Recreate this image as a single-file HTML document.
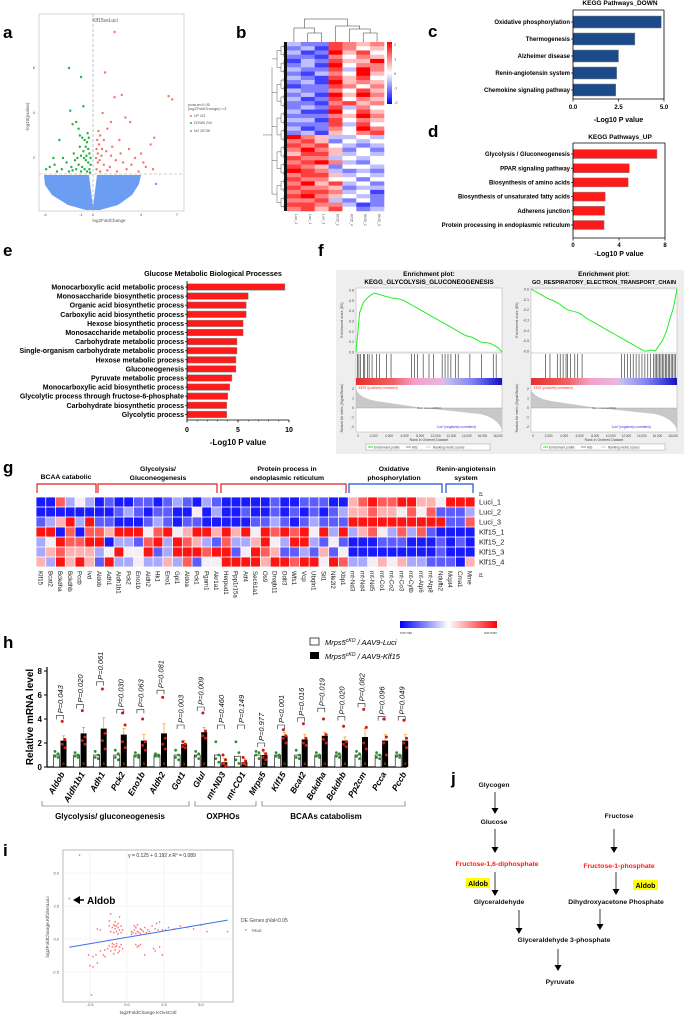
<!DOCTYPE html>
<html><head><meta charset="utf-8"><style>
body{margin:0;background:#fff}
svg{display:block;font-family:"Liberation Sans",Arial,sans-serif}
</style></head><body>
<svg id="fig" width="684" height="1016" viewBox="0 0 684 1016" xmlns="http://www.w3.org/2000/svg">
<rect x="0" y="0" width="684" height="1016" fill="#fff"/>
<g font-weight="bold" font-size="17" fill="#000">
<text x="3" y="38">a</text>
<text x="236" y="38">b</text>
<text x="428" y="37">c</text>
<text x="428" y="137">d</text>
<text x="3" y="256">e</text>
<text x="318" y="256">f</text>
<text x="3" y="473">g</text>
<text x="3" y="648">h</text>
<text x="3" y="856">i</text>
<text x="451" y="784">j</text>
</g>
</svg>
<script>
// ---------- data ----------
const volGreenX=[-2.0,-1.0,-0.8,-1.9,-1.7,-1.4,-1.2,-1.1,-0.9,-0.7,-0.5,-0.6,-0.4,-0.3,-0.8,-1.0,-1.3,-1.6,-2.5,-2.8,-3.3,-3.6,-3.9,-3.2,-2.2,-1.8,-1.5,-1.2,-0.9,-0.6,-0.4,-0.3,-0.5,-0.7,-1.0,-1.4,-2.0,-2.6,-0.2,-0.2,-0.35,-0.45,-0.55,-0.75,-1.1,-0.25,-1.7,-3.0];
const volGreenY=[6.0,5.6,4.3,4.1,3.5,3.6,3.3,3.0,2.9,2.8,2.7,2.5,2.4,2.2,2.3,2.1,2.0,2.2,2.0,2.8,2.0,1.6,1.5,1.7,1.8,1.6,1.9,1.7,1.6,1.9,1.8,1.5,1.4,1.5,1.4,1.5,1.4,1.5,1.7,2.0,2.9,3.1,2.1,2.0,2.5,1.35,1.45,1.4];
const volRedX=[1.8,1.0,6.3,6.6,2.4,1.8,0.8,2.7,3.1,1.5,1.2,0.6,0.9,0.5,0.3,0.4,0.7,1.1,1.6,2.2,4.8,5.1,4.0,3.5,3.2,2.5,1.9,1.4,0.9,0.4,0.3,0.6,1.2,2.0,2.8,3.8,4.4,4.2,5.0,0.25,0.35,0.45,0.55,0.75,1.5,2.3,3.0];
const volRedY=[7.6,5.8,4.75,4.6,4.8,4.7,4.0,3.8,3.6,3.6,3.3,3.0,2.8,2.6,2.4,2.2,2.1,2.3,2.5,2.8,2.6,2.9,2.2,2.0,1.7,1.8,1.9,1.6,1.7,1.8,1.5,1.4,1.45,1.4,1.5,1.4,1.6,1.8,1.5,2.0,2.8,3.2,1.9,2.4,2.1,2.2,2.4];
const volXTicks=[-4,-1,0,4,7];
const volYTicks=[2,4,6];

const hmRows=["3227656","2317645","3128574","2216465","1327558","2318466","3227386","2136485","3217574","2318565","1227646","3226475","2318586","3127465","2216756","2327364","3118475","2226586","3317465","2227374","3126486","2315467",
"8653343","6752434","7674323","6865242","5775343","7663434","6786324","7652443","8763232","6775343","7664424","6857342","7665233","6776341","7865432","6673242","7766312","6757423"];
const hmCols=["Luci_2","Luci_1","Luci_3","Klf15_1","Klf15_4","Klf15_2","Klf15_3"];

const cCats=["Oxidative phosphorylation","Thermogenesis","Alzheimer disease","Renin-angiotensin system","Chemokine signaling pathway"];
const cVals=[4.85,3.4,2.5,2.4,2.35];
const cTicks=["0.0","2.5","5.0"];
const dCats=["Glycolysis / Gluconeogenesis","PPAR signaling pathway","Biosynthesis of amino acids","Biosynthesis of unsaturated fatty acids","Adherens junction","Protein processing in endoplasmic reticulum"];
const dVals=[7.3,4.9,4.8,2.8,2.75,2.7];
const dTicks=[0,4,8];
const eCats=["Monocarboxylic acid metabolic process","Monosaccharide biosynthetic process","Organic acid biosynthetic process","Carboxylic acid biosynthetic process","Hexose biosynthetic process","Monosaccharide metabolic process","Carbohydrate metabolic process","Single-organism carbohydrate metabolic process","Hexose metabolic process","Gluconeogenesis","Pyruvate metabolic process","Monocarboxylic acid biosynthetic process","Glycolytic process through fructose-6-phosphate","Carbohydrate biosynthetic process","Glycolytic process"];
const eVals=[9.6,6.0,5.8,5.8,5.5,5.5,4.9,4.9,4.8,4.8,4.4,4.2,4.0,3.9,3.9];
const eTicks=[0,5,10];

const esLeft=[0,0.38,0.48,0.52,0.55,0.57,0.56,0.55,0.54,0.53,0.52,0.52,0.51,0.5,0.48,0.46,0.44,0.42,0.4,0.38,0.36,0.34,0.32,0.3,0.28,0.26,0.24,0.22,0.2,0.18,0.16,0.15,0.14,0.12,0.1,0.09,0.09,0.08,0.06,0.04,0.0];
const esRight=[0,-0.02,-0.04,-0.06,-0.08,-0.1,-0.11,-0.13,-0.15,-0.18,-0.2,-0.21,-0.22,-0.23,-0.25,-0.28,-0.3,-0.32,-0.34,-0.36,-0.38,-0.4,-0.42,-0.44,-0.46,-0.48,-0.5,-0.52,-0.54,-0.56,-0.58,-0.6,-0.6,-0.59,-0.6,-0.55,-0.5,-0.42,-0.3,-0.18,0];
const hitsLeft=[0.01,0.02,0.03,0.05,0.06,0.08,0.09,0.11,0.14,0.16,0.21,0.24,0.38,0.40,0.42,0.46,0.5,0.53,0.59,0.61,0.63,0.65,0.68,0.7,0.78,0.86,0.94,0.96];
const hitsRight=[0.1,0.13,0.18,0.2,0.22,0.24,0.25,0.27,0.3,0.32,0.35,0.62,0.64,0.66,0.68,0.7,0.72,0.74,0.76,0.78,0.8,0.82,0.84,0.85,0.86,0.87,0.88,0.89,0.9,0.91,0.92,0.93,0.94,0.95,0.96,0.97,0.98,0.99];
const esLeftTicks=[0,0.1,0.2,0.3,0.4,0.5,0.6];
const esRightTicks=[0,-0.1,-0.2,-0.3,-0.4,-0.5,-0.6];
const rankTicks=["0","2,000","4,000","6,000","8,000","10,000","12,000","14,000","16,000","18,000"];

const gGenes=["Klf15","Bcat2","Bckdha","Bckdhb","Pccb","Ivd","Aldob","Adh1","Aldh1b1","Pck2","Eno1b","Aldh2","Hk1","Eno1","Gpi1","Aldoa","Pck1","Pgam1","Akr1a1","Herpud1","Ppp1r15a","Atf4","Sec61a1","Os9","Dnajb11","Ddit3","Wfs1","Vcp","Ubqln1","Sil1","Nfe2l2","Xbp1","mt-Nd3","mt-Nd4","mt-Nd5","mt-Co1","mt-Co2","mt-Co3","mt-Cytb","mt-Atp6","mt-Atp8","Ndufb2","Mcpt4","Cma1","Mme"];
const gSamples=["Luci_1","Luci_2","Luci_3","Klf15_1","Klf15_2","Klf15_3","Klf15_4"];
const gValues=[
"BBrlwl"+"BbBBbbBblbBlb"+"BBBBBbBBbbbBB"+"prRrrRRppw"+"RRR",
"BBBBBB"+"BBblbBbbBBwBl"+"BBbBBbBbBbBbl"+"pprppwrwrb"+"bbl",
"blpRlR"+"bbBBBblbBbbBB"+"BBBbblbBblbbb"+"RRRRRRRRRR"+"bbr",
"RRBrBr"+"rpRRRwrRwpRRp"+"RpRwRrRrRwRlR"+"lprwlrlrbB"+"BBB",
"lwRrrR"+"RBllbrRlRrplb"+"rllpRwlRRlbwb"+"BBBbbbBBBb"+"BbB",
"lprppp"+"lwRwwRblRRRrR"+"RbwRrpbblbpbw"+"BBBBBBBBBb"+"BBB",
"plRpRp"+"bRllwllplrbww"+"RRRRpRRrRRwRr"+"llwpwpllbb"+"bBp"];

const hGenes=["Aldob","Aldh1b1","Adh1","Pck2","Eno1b","Aldh2","Got1","Glul","mt-ND3","mt-CO1","Mrps5","Klf15","Bcat2","Bckdha","Bckdhb","Pp2cm","Pcca","Pccb"];
const hWhite=[1,1,1,1,1,1,1,1,1,0.9,1,1,1,1,1,1,1,1];
const hBlack=[2.2,2.8,3.2,2.7,2.2,2.8,1.9,2.9,0.4,0.4,1.0,2.6,2.3,2.6,2.2,2.5,2.2,2.2];
const hErr=[0.4,0.5,0.9,0.5,0.5,0.8,0.3,0.4,0.3,0.3,0.2,0.3,0.4,0.3,0.3,0.7,0.5,0.5];
const hBlackDots=[[3.8,2.3,1.9,1.6],[4.7,2.5,2.2,1.9],[6.5,2.8,2.2,1.5],[4.5,3.5,2.1,1.6],[4.0,2.1,1.8,1.4],[5.8,2.4,1.9,1.5],[2.1,1.9,1.7,1.6],[4.5,3.0,2.6,2.4],[1.0,0.6,0.3,0.1],[0.8,0.5,0.3,0.2],[1.4,1.1,0.8,0.6],[3.1,2.6,2.4,2.0],[3.6,2.4,2.0,1.8],[4.0,2.7,2.3,2.0],[3.4,2.1,1.9,1.7],[4.8,3.3,2.0,1.5],[4.0,2.5,2.0,1.0],[3.9,2.4,2.0,1.6]];
const hWhiteDots=[[1.3,1.1,0.9,0.8],[1.2,1.0,0.9,0.8],[1.3,1.0,0.8,0.7],[1.4,1.1,0.8,0.6],[1.2,1.0,0.9,0.8],[1.1,1.0,0.9,0.9],[1.4,1.0,0.8,0.6],[1.3,1.1,0.9,0.7],[2.1,1.0,0.7,0.4],[2.1,1.2,0.6,0.3],[1.3,1.2,1.0,0.7],[1.2,1.0,0.9,0.8],[1.4,1.0,0.8,0.7],[1.2,1.0,0.9,0.8],[1.2,1.1,0.9,0.8],[1.3,1.1,0.9,0.7],[1.2,1.0,0.8,0.7],[1.2,1.0,0.9,0.8]];
const hP=["P=0.043","P=0.020","P=0.061","P=0.030","P=0.063","P=0.081","P=0.003","P=0.009","P=0.460","P=0.149","P=0.977","P<0.001","P=0.016","P=0.019","P=0.020","P=0.082","P=0.096","P=0.049"];
const hBracket=[4.3,5.2,7.1,4.8,4.8,6.4,3.5,5.0,3.5,3.5,2.0,3.5,4.1,4.9,4.2,5.3,4.2,4.2];
const hTicks=[0,2,4,6,8];

const iX=[-1.0,-0.9,-0.8,-0.7,-0.6,-0.5,-1.1,-0.9,-0.7,-0.6,-0.4,-0.3,-1.2,-0.8,-0.5,-1.1,-1.2,-0.4,-0.6,-0.8,-2.0,-1.8,
-1.3,-1.2,-1.1,-1.0,-0.9,-0.8,-0.7,-0.6,-0.5,-0.4,-0.3,-0.9,-1.0,-0.7,-0.5,-0.8,-1.5,-1.8,-1.6,-2.1,-2.3,-2.6,-2.5,-2.3,-2.0,-1.5,-2.4,
0.3,0.4,0.5,0.6,0.7,0.8,0.9,1.0,1.1,1.2,1.3,1.4,0.5,0.7,0.9,1.5,0.3,0.6,1.7,1.9,2.0,2.1,2.4,2.6,2.8,3.2,3.6,4.1,4.5,5.0,5.4,6.8,2.2,
0.6,0.8,0.9,0.7,1.2,1.8,2.2,2.4,1.9,-3.9,-3.2];
const iY=[0.8,1.0,0.7,0.9,1.1,0.6,0.5,0.4,0.5,0.8,0.9,0.6,0.9,1.2,1.6,1.8,1.3,0.4,0.3,0.9,0.7,0.6,
-0.8,-0.6,-1.0,-0.7,-0.5,-0.9,-0.6,-1.1,-0.7,-0.5,-0.8,-1.2,-0.4,-0.4,-1.0,-0.7,-0.9,-1.0,-1.3,-1.3,-1.4,-1.3,-2.1,-2.2,-1.9,-1.4,-4.3,
0.5,0.4,0.6,0.8,0.5,0.4,0.7,0.6,0.5,0.8,0.4,0.6,0.9,1.0,0.3,0.5,0.3,0.35,0.9,0.7,1.1,0.6,0.6,0.6,0.8,0.7,0.9,0.8,0.7,1.0,0.5,0.5,1.2,
-0.5,-0.6,-0.5,-0.7,-1.3,-0.8,-0.7,-1.3,-1.0,3.0,6.3];
const iIntercept=0.125, iSlope=0.192;
const iXTicks=[-2.5,0,2.5,5];
const iYTicks=[-2.5,0,2.5,5];

// ---------- helpers ----------
const NS='http://www.w3.org/2000/svg';
const svg=document.getElementById('fig');
function mk(tag,attrs,parent){const e=document.createElementNS(NS,tag);for(const k in attrs)e.setAttribute(k,attrs[k]);(parent||svg).appendChild(e);return e;}
function grp(name){const g=mk('g',{});return g;}
function txt(p,s,x,y,size,o){o=o||{};const t=mk('text',{x:x,y:y,'font-size':size,fill:o.fill||'#000','text-anchor':o.anchor||'start'},p);
 if(o.bold)t.setAttribute('font-weight','bold');if(o.italic)t.setAttribute('font-style','italic');
 if(o.rot!==undefined)t.setAttribute('transform','rotate('+o.rot+' '+x+' '+y+')');t.textContent=s;return t;}
function line(p,x1,y1,x2,y2,st,w,extra){const l=mk('line',{x1:x1,y1:y1,x2:x2,y2:y2,stroke:st||'#000','stroke-width':w||1},p);if(extra)for(const k in extra)l.setAttribute(k,extra[k]);return l;}

// ---------- panel a: volcano ----------
(function(){
 const g=grp('volcano-plot');
 const X=v=>93+v*12, Y=v=>203-v*22.5;
 mk('rect',{x:39,y:14,width:145,height:197,fill:'#fff',stroke:'#bbb','stroke-width':0.6},g);
 txt(g,'Klf15vsLuci',105,22,5,{anchor:'middle',fill:'#555'});
 mk('path',{d:'M44,175 L89,175 L93,207 L97,175 L141,175 L139,184 L132,195 L118,205 L100,210 L86,210 L68,205 L52,195 L45,185 Z',fill:'#6b9ef2'},g);
 mk('circle',{cx:156,cy:184,r:1.2,fill:'#6b9ef2'},g);
 volGreenX.forEach((v,i)=>{const c=mk('circle',{cx:X(v),cy:Y(volGreenY[i]),r:1.2,fill:'#1fb33a'},g);});
 volRedX.forEach((v,i)=>{const c=mk('circle',{cx:X(v),cy:Y(volRedY[i]),r:1.2,fill:'#f0786e'},g);});
 line(g,93,14,93,211,'#999',0.6,{'stroke-dasharray':'3,2'});
 line(g,39,174,184,174,'#999',0.6,{'stroke-dasharray':'3,2'});
 volXTicks.forEach(v=>txt(g,String(v),X(v),216,4,{anchor:'middle',fill:'#555'}));
 volYTicks.forEach(v=>txt(g,String(v),35,Y(v)+1,4,{anchor:'end',fill:'#555'}));
 txt(g,'log2FoldChange',109,222,4.5,{anchor:'middle',fill:'#555'});
 txt(g,'-log10(pvalue)',29,117,4.5,{anchor:'middle',fill:'#555',rot:-90});
 txt(g,'pvalue<0.05',188,106,4,{fill:'#555'});txt(g,'|log2FoldChange|>=3',188,110,4,{fill:'#555'});
 [['#f0786e','UP 421',117],['#1fb33a','DOWN 240',124],['#6b9ef2','NO 26738',132]].forEach(a=>{mk('circle',{cx:191,cy:a[2]-1,r:1,fill:a[0]},g);txt(g,a[1],194,a[2],3.5,{fill:'#555'});});
})();

// ---------- panel b: heatmap ----------
(function(){
 const g=grp('cluster-heatmap');
 const x0=287,y0=42,w=97,h=169,cw=w/7,rh=h/hmRows.length;
 function col(v){const t=(v-4)/4;if(t<0){const k=Math.round(255*(1+t));return 'rgb('+k+','+k+',255)';}const k=Math.round(255*(1-t));return 'rgb(255,'+k+','+k+')';}
 hmRows.forEach((r,i)=>{for(let j=0;j<7;j++){const c=mk('rect',{x:x0+j*cw,y:y0+i*rh,width:cw+0.3,height:rh+0.3,fill:col(+r[j])},g);}});
 let d='';for(let i=0;i<hmRows.length;i++){const y=y0+(i+0.5)*rh;d+='M'+(x0-3)+','+y+'H'+x0+' ';}
 for(let i=0;i<hmRows.length;i+=2){const y1=y0+(i+0.5)*rh,y2=y0+(i+1.5)*rh;d+='M'+(x0-3)+','+y1+'V'+y2+'M'+(x0-6)+','+((y1+y2)/2)+'H'+(x0-3)+' ';}
 for(let i=0;i<hmRows.length;i+=4){const y1=y0+(i+1)*rh,y2=y0+(i+3)*rh;d+='M'+(x0-6)+','+y1+'V'+y2+'M'+(x0-10)+','+((y1+y2)/2)+'H'+(x0-6)+' ';}
 for(let i=0;i<hmRows.length;i+=8){const y1=y0+(i+2)*rh,y2=y0+Math.min(i+6,hmRows.length-1)*rh;d+='M'+(x0-10)+','+y1+'V'+y2+'M'+(x0-15)+','+((y1+y2)/2)+'H'+(x0-10)+' ';}
 d+='M'+(x0-15)+','+(y0+6*rh)+'V'+(y0+36*rh)+'M'+(x0-24)+','+(y0+22*rh)+'H'+(x0-15);
 mk('path',{d:d,stroke:'#333','stroke-width':0.4,fill:'none'},g);
 mk('rect',{x:x0-3,y:y0,width:3,height:h,fill:'#111'},g);
 const cx=j=>x0+(j+0.5)*cw;
 mk('path',{d:'M'+cx(1)+',42V33H'+cx(2)+'V42 M'+cx(0)+',42V28H'+((cx(1)+cx(2))/2)+'V33 M'+cx(5)+',42V33H'+cx(6)+'V42 M'+cx(4)+',42V29H'+((cx(5)+cx(6))/2)+'V33 M'+cx(3)+',42V26H'+((cx(4)+(cx(5)+cx(6))/2)/2)+'V29 M'+((cx(0)+(cx(1)+cx(2))/2)/2)+',28V19H'+((cx(3)+(cx(4)+(cx(5)+cx(6))/2)/2)/2)+'V26',stroke:'#333','stroke-width':0.5,fill:'none'},g);
 hmCols.forEach((c,j)=>txt(g,c,cx(j)+1,214,3.5,{fill:'#555',rot:90}));
 const gd=mk('linearGradient',{id:'bgrad',x1:0,y1:0,x2:0,y2:1},mk('defs',{},g));
 mk('stop',{offset:0,'stop-color':'#f00'},gd);mk('stop',{offset:0.5,'stop-color':'#fff'},gd);mk('stop',{offset:1,'stop-color':'#00f'},gd);
 mk('rect',{x:387,y:42,width:5,height:62,fill:'url(#bgrad)'},g);
 ['2','1','0','-1','-2'].forEach((s,i)=>txt(g,s,394,46+i*14.5,4,{fill:'#555'}));
})();

// ---------- bar charts c, d, e ----------
function barChart(name,cats,vals,ticks,opt){
 const g=grp(name);
 const X=v=>opt.x0+v*opt.scale;
 txt(g,opt.title,opt.tx,opt.ty,opt.tsize,{anchor:'middle',bold:true});
 cats.forEach((c,i)=>{const y=opt.y0+i*opt.step;
  const b=mk('rect',{x:opt.x0,y:y-opt.bh/2,width:X(vals[i])-opt.x0,height:opt.bh,fill:opt.color,stroke:'#888','stroke-width':0.5},g);
  
  line(g,opt.x0-2,y,opt.x0,y,'#000',0.7);
  txt(g,c,opt.x0-3,y+opt.lsize*0.35,opt.lsize,{anchor:'end',bold:true});});
 line(g,opt.x0,opt.top,opt.x0,opt.axisY,'#000',0.8);
 line(g,opt.x0,opt.axisY,X(+String(ticks[ticks.length-1]).replace(',','')),opt.axisY,'#000',0.8);
 if(opt.box){line(g,opt.x0,opt.top,X(+ticks[ticks.length-1]),opt.top,'#000',0.8);line(g,X(+ticks[ticks.length-1]),opt.top,X(+ticks[ticks.length-1]),opt.axisY,'#000',0.8);}
 if(opt.minor){for(let v=0;v<=+ticks[ticks.length-1];v+=opt.minor)line(g,X(v),opt.axisY,X(v),opt.axisY+1.5,'#000',0.5);}
 ticks.forEach(t=>{line(g,X(+t),opt.axisY,X(+t),opt.axisY+2.5,'#000',0.7);txt(g,String(t),X(+t),opt.axisY+opt.tickGap,opt.lsize,{anchor:'middle',bold:true});});
 txt(g,'-Log10  P value',(opt.x0+X(+ticks[ticks.length-1]))/2,opt.xlY,opt.xlsize,{anchor:'middle',bold:true});
}
barChart('kegg-down-chart',cCats,cVals,cTicks,{x0:573,scale:18.2,y0:22,step:17,bh:12,color:'#1c4a8a',title:'KEGG Pathways_DOWN',tx:620,ty:5,tsize:6.5,lsize:6,top:10,axisY:99,tickGap:10,xlY:122,xlsize:7,box:true});
barChart('kegg-up-chart',dCats,dVals,dTicks,{x0:573,scale:11.5,y0:154,step:14.2,bh:9,color:'#ff1a1a',title:'KEGG Pathways_UP',tx:620,ty:139,tsize:6.5,lsize:6,top:143,axisY:238,tickGap:9,xlY:256,xlsize:7,box:true});
barChart('glucose-bp-chart',eCats,eVals,eTicks,{x0:187,scale:10.2,y0:287,step:9.1,bh:6.5,color:'#ff1a1a',title:'Glucose Metabolic Biological Processes',tx:213,ty:276,tsize:7.2,lsize:7,top:281,axisY:420,tickGap:12,xlY:445,xlsize:8,minor:1});

// ---------- panel f: GSEA ----------
mk('rect',{x:336,y:270,width:348,height:184,fill:'#eeeeee'});
function gsea(name,x0,title,es,hits,ticks,neg,tsz){
 const g=grp(name);
 const w=146,esT=288,esB=353;
 txt(g,'Enrichment plot:',x0+w/2,276,6.5,{anchor:'middle',bold:true});
 txt(g,title,x0+w/2,284,tsz,{anchor:'middle',bold:true});
 mk('rect',{x:x0,y:esT,width:w,height:144,fill:'#fff',stroke:'#aaa','stroke-width':0.5},g);
 const Y=v=>neg?esT+(-v/0.6)*(esB-esT-3)+1:esB-1-(v/0.6)*(esB-esT-3);
 line(g,x0,Y(0),x0+w,Y(0),'#bbb',0.4);
 ticks.forEach(t=>txt(g,t.toFixed(1),x0-2,Y(t)+1.5,3.6,{anchor:'end',fill:'#444'}));
 let d='';es.forEach((v,i)=>{d+=(i?'L':'M')+(x0+i/(es.length-1)*w).toFixed(1)+','+Y(v).toFixed(1);});
 const p=mk('path',{d:d,stroke:'#22ee22','stroke-width':1,fill:'none'},g);
 line(g,x0,esB,x0+w,esB,'#aaa',0.5);
 hits.forEach(hh=>{const l=line(g,x0+hh*w,esB+1,x0+hh*w,378,'#222',0.6);});
 const gid='strip'+name;const gd=mk('linearGradient',{id:gid,x1:0,y1:0,x2:1,y2:0},mk('defs',{},g));
 [[0,'#e83030'],[0.25,'#f06060'],[0.4,'#f4a0c8'],[0.6,'#e8b8e0'],[0.62,'#c0c0f0'],[0.8,'#8080f0'],[1,'#1010c8']].forEach(s=>mk('stop',{offset:s[0],'stop-color':s[1]},gd));
 mk('rect',{x:x0,y:378,width:w,height:7,fill:'url(#'+gid+')'},g);
 txt(g,"'Klf15' (positively correlated)",x0+2,389,3.2,{fill:'#e33'});
 const z=408;
 mk('path',{d:'M'+x0+','+z+' L'+x0+',389 Q'+(x0+3)+',398 '+(x0+20)+',401 L'+(x0+w*0.46)+','+z+' L'+(x0+w*0.85)+',414 Q'+(x0+w*0.97)+',418 '+(x0+w)+',430 L'+(x0+w)+','+z+' Z',fill:'#c8c8c8'},g);
 line(g,x0,z,x0+w,z,'#999',0.4);
 txt(g,'Zero cross at 8314',x0+w*0.42,409,2.8,{fill:'#444'});
 txt(g,"'Luci' (negatively correlated)",x0+w*0.55,428,3.2,{fill:'#33e'});
 ['2','1','0','-1','-2'].forEach((s,i)=>txt(g,s,x0-2,390+i*9.5,3.6,{anchor:'end',fill:'#444'}));
 rankTicks.forEach((s,i)=>txt(g,s,x0+2+i*(w-6)/9,437,3.2,{anchor:'middle',fill:'#444'}));
 txt(g,'Rank in Ordered Dataset',x0+w/2,441,3.5,{anchor:'middle',fill:'#444'});
 txt(g,'Enrichment score (ES)',x0-13,320,3.5,{anchor:'middle',fill:'#444',rot:-90});
 txt(g,'Ranked list metric (Signal2Noise)',x0-13,408,3.3,{anchor:'middle',fill:'#444',rot:-90});
 mk('rect',{x:x0+10,y:444,width:w-22,height:6,fill:'#fff',stroke:'#888','stroke-width':0.4},g);
 line(g,x0+12,447,x0+17,447,'#2e2',1);txt(g,'Enrichment profile',x0+18,448.5,3.2,{fill:'#444'});
 line(g,x0+50,447,x0+55,447,'#444',0.6);txt(g,'Hits',x0+56,448.5,3.2,{fill:'#444'});
 line(g,x0+70,447,x0+75,447,'#ccc',1);txt(g,'Ranking metric scores',x0+77,448.5,3.2,{fill:'#444'});
}
gsea('gsea-glycolysis',356,'KEGG_GLYCOLYSIS_GLUCONEOGENESIS',esLeft,hitsLeft,esLeftTicks,false,6.3);
gsea('gsea-respiratory',531,'GO_RESPIRATORY_ELECTRON_TRANSPORT_CHAIN',esRight,hitsRight,esRightTicks,true,5.6);

// ---------- panel g: gene heatmap ----------
(function(){
 const g=grp('pathway-gene-heatmap');
 const x0=36,y0=497,cw=439/45,rh=10;
 const cmap={B:'#1a1aff',b:'#5c5cff',l:'#a9a9ff',w:'#f5eef5',p:'#ffb2b2',r:'#ff5c5c',R:'#ff1414'};
 gValues.forEach((row,i)=>{for(let j=0;j<45;j++){const c=mk('rect',{x:x0+j*cw+0.4,y:y0+i*rh+0.4,width:cw-0.8,height:rh-0.8,fill:cmap[row[j]||'w']},g);}});
 gSamples.forEach((s,i)=>txt(g,s,479,y0+i*rh+7.5,7.5,{fill:'#222'}));
 txt(g,'id',479,492,5,{fill:'#222',rot:90});txt(g,'id',479,573,5,{fill:'#222',rot:90});
 gGenes.forEach((s,j)=>txt(g,s,x0+j*cw+2.5,571,6.2,{fill:'#222',rot:90}));
 const brs=[[37,96,'#e02020',['BCAA catabolic'],66],[98,217,'#e02020',['Glycolysis/','Gluconeogenesis'],158],[221,346,'#e02020',['Protein process in','endoplasmic reticulum'],287],[349,442,'#2050d0',['Oxidative','phosphorylation'],394],[446,473,'#2050d0',['Renin-angiotensin','system'],466]];
 brs.forEach(b=>{mk('path',{d:'M'+b[0]+',493V484H'+b[1]+'V493',stroke:b[2],'stroke-width':1.2,fill:'none'},g);
  b[3].forEach((s,k)=>txt(g,s,b[4],b[3].length==1?479:(471+k*9),6.8,{anchor:'middle',bold:true}));});
 const gd=mk('linearGradient',{id:'grow',x1:0,y1:0,x2:1,y2:0},mk('defs',{},g));
 mk('stop',{offset:0,'stop-color':'#0000ff'},gd);mk('stop',{offset:0.5,'stop-color':'#fff'},gd);mk('stop',{offset:1,'stop-color':'#ff0000'},gd);
 mk('rect',{x:400,y:621,width:97,height:7,fill:'url(#grow)'},g);
 txt(g,'row min',400,634,3.5,{fill:'#444'});txt(g,'row max',497,634,3.5,{anchor:'end',fill:'#444'});
})();

// ---------- panel h: qPCR bars ----------
(function(){
 const g=grp('qpcr-bar-chart');
 const Y=v=>767-v*12, cx=i=>60+i*20.1;
 line(g,47,667,47,767,'#000',1.2);line(g,47,767,407,767,'#000',1.2);
 hTicks.forEach(t=>{line(g,44,Y(t),47,Y(t),'#000',1);txt(g,String(t),42,Y(t)+3,8,{anchor:'end',bold:true});});
 txt(g,'Relative mRNA level',33,717,10,{anchor:'middle',bold:true,rot:-90});
 hGenes.forEach((gn,i)=>{const c=cx(i);
  const wb=mk('rect',{x:c-6.5,y:Y(hWhite[i]),width:6,height:767-Y(hWhite[i]),fill:'#fff',stroke:'#000','stroke-width':0.6},g);
  
  const bb=mk('rect',{x:c+0.5,y:Y(hBlack[i]),width:6,height:767-Y(hBlack[i]),fill:'#000'},g);
  
  line(g,c+3.5,Y(hBlack[i]),c+3.5,Y(hBlack[i]+hErr[i]),'#f5a030',0.8);line(g,c+2,Y(hBlack[i]+hErr[i]),c+5,Y(hBlack[i]+hErr[i]),'#f5a030',0.8);
  hWhiteDots[i].forEach((v,k)=>mk('circle',{cx:c-3.5+(k%2?1.5:-1.5),cy:Y(v),r:1.4,fill:'#2e8b2e'},g));
  hBlackDots[i].forEach((v,k)=>mk('circle',{cx:c+3.5+(k%2?1.3:-1.3),cy:Y(v),r:1.5,fill:'#d01818'},g));
  txt(g,'5',c+3.5,765,4,{anchor:'middle',fill:'#e08020'});
  const by=Y(hBracket[i]);
  mk('path',{d:'M'+(c-3.5)+','+(by+4)+'V'+by+'H'+(c+3.5)+'V'+(by+4),stroke:'#222','stroke-width':0.6,fill:'none'},g);
  txt(g,hP[i],c+3,by-2,7.5,{italic:true,rot:-90,fill:'#111'});
  txt(g,gn,c+5,774,8.5,{anchor:'end',bold:true,italic:true,rot:-60});
 });
 [[42,189,'Glycolysis/ gluconeogenesis',110],[195,256,'OXPHOs',223],[262,405,'BCAAs catabolism',326]].forEach(b=>{
  mk('path',{d:'M'+b[0]+',801V806H'+b[1]+'V801',stroke:'#555','stroke-width':0.6,fill:'none'},g);
  txt(g,b[2],b[3],819,8,{anchor:'middle',bold:true});});
 mk('rect',{x:310,y:638,width:9,height:7,fill:'#fff',stroke:'#000','stroke-width':0.7},g);
 mk('rect',{x:310,y:652,width:9,height:7,fill:'#000'},g);
 const t1=txt(g,'',325,645,7.5,{italic:true});t1.innerHTML='Mrps5<tspan font-size="5" dy="-3">cKO</tspan><tspan dy="3"> / AAV9-Luci</tspan>';
 const t2=txt(g,'',325,659,7.5,{italic:true});t2.innerHTML='Mrps5<tspan font-size="5" dy="-3">cKO</tspan><tspan dy="3"> / AAV9-Klf15</tspan>';
})();

// ---------- panel i: scatter ----------
(function(){
 const g=grp('correlation-scatter');
 const X=v=>127+v*14.8, Y=v=>939-v*13.2;
 mk('rect',{x:63,y:850,width:170,height:152,fill:'#fff',stroke:'#aaa','stroke-width':0.8},g);
 iXTicks.forEach(t=>line(g,X(t),850,X(t),1002,'#ececec',0.6));
 iYTicks.forEach(t=>line(g,63,Y(t),233,Y(t),'#ececec',0.6));
 iXTicks.forEach(t=>txt(g,t.toFixed(1),X(t),1006,4,{anchor:'middle',fill:'#555'}));
 iYTicks.forEach(t=>txt(g,t.toFixed(1),59,Y(t)+1.5,4,{anchor:'end',fill:'#555'}));
 iX.forEach((v,i)=>{const c=mk('text',{x:X(v),y:Y(iY[i])+2,'font-size':5,fill:'#f22','text-anchor':'middle'},g);c.textContent='*';});
 const rl=line(g,X(-3.9),Y(iIntercept+iSlope*-3.9),X(6.8),Y(iIntercept+iSlope*6.8),'#3a6ef0',1);
 
 const eq=txt(g,'',162,857,5,{anchor:'middle',fill:'#333'});eq.innerHTML='y = 0.125 + 0.192 <tspan font-style="italic">x</tspan>   R<tspan font-size="3" dy="-2">2</tspan><tspan dy="2"> = 0.089</tspan>';
 mk('path',{d:'M73,900 L80,896 L80,904 Z',fill:'#000'},g);line(g,78,900,84,900,'#000',1.5);
 txt(g,'Aldob',87,904,10,{bold:true});
 txt(g,'log2FoldChange.KOvsCntl',148,1014,4.8,{anchor:'middle',fill:'#444'});
 txt(g,'log2FoldChange.Klf15vsLuci',49,927,4.8,{anchor:'middle',fill:'#444',rot:-90});
 txt(g,'DE Genes pVal<0.05',241,922,5,{fill:'#444'});
 txt(g,'*',246,933,5,{fill:'#f22',anchor:'middle'});txt(g,'TRUE',251,932,4,{fill:'#444'});
})();

// ---------- panel j: pathway ----------
(function(){
 const g=grp('fructose-pathway-diagram');
 function arrow(x,y1,y2){line(g,x,y1,x,y2-5,'#222',0.9);mk('path',{d:'M'+(x-3.5)+','+(y2-6)+' L'+(x+3.5)+','+(y2-6)+' L'+x+','+y2+' Z',fill:'#000'},g);}
 const lab=(s,x,y,c)=>{const t=txt(g,s,x,y,6.8,{anchor:'middle',fill:c||'#111',bold:true});};
 lab('Glycogen',494,787);arrow(495,792,814);
 lab('Glucose',494,824);arrow(495,829,853);
 lab('Fructose-1,6-diphosphate',497,866,'#ff1a1a');arrow(495,872,896);
 lab('Glyceraldehyde',499,904);
 lab('Fructose',619,818);arrow(614,829,853);
 lab('Fructose-1-phosphate',619,868,'#ff1a1a');arrow(616,872,895);
 lab('Dihydroxyacetone Phosphate',616,904);
 arrow(519,910,934);arrow(600,909,930);
 lab('Glyceraldehyde 3-phosphate',564,942);arrow(558,949,971);
 lab('Pyruvate',560,984);
 mk('rect',{x:466,y:878,width:24,height:10,fill:'#ffff00'},g);txt(g,'Aldob',478,886,7,{anchor:'middle',bold:true});
 mk('rect',{x:633,y:880,width:25,height:10,fill:'#ffff00'},g);txt(g,'Aldob',645.5,888,7,{anchor:'middle',bold:true});
})();
</script>
</body></html>
